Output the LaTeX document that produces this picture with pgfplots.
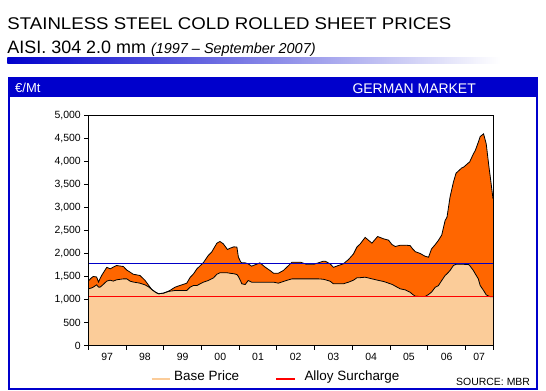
\documentclass[border=0pt]{standalone}
\usepackage{pgfplots}
\pgfplotsset{compat=1.18}
\usepackage{pgfplotstable}
\usepackage{fontspec}
\setmainfont{Liberation Sans}
\newfontfamily\widefont[FakeStretch=1.1]{Liberation Sans}
\definecolor{peach}{RGB}{251,204,153}
\definecolor{orng}{RGB}{255,102,0}
\definecolor{hblue}{RGB}{0,0,204}
\definecolor{lblue}{RGB}{0,0,200}

\pgfplotstableread{
year base top
1997.00 1232 1400
1997.08 1250 1470
1997.13 1268 1500
1997.22 1319 1490
1997.27 1270 1380
1997.31 1268 1450
1997.36 1300 1530
1997.49 1400 1700
1997.58 1420 1667
1997.66 1400 1703
1997.75 1428 1739
1997.93 1449 1717
1998.02 1449 1640
1998.11 1398 1594
1998.19 1380 1550
1998.37 1355 1522
1998.50 1319 1420
1998.59 1280 1320
1998.68 1220 1220
1998.77 1165 1165
1998.86 1125 1125
1998.99 1138 1138
1999.10 1170 1170
1999.17 1181 1200
1999.30 1196 1268
1999.48 1196 1319
1999.61 1196 1355
1999.70 1268 1480
1999.79 1304 1558
1999.88 1304 1667
2000.05 1377 1800
2000.18 1413 1957
2000.27 1449 2029
2000.32 1471 2101
2000.41 1550 2225
2000.49 1580 2261
2000.58 1580 2210
2000.69 1580 2087
2000.76 1570 2116
2000.86 1560 2145
2000.94 1543 2138
2000.98 1500 1920
2001.04 1400 1820
2001.07 1341 1797
2001.16 1326 1797
2001.24 1413 1775
2001.33 1377 1725
2001.42 1377 1754
2001.55 1377 1797
2001.69 1377 1703
2001.82 1377 1630
2001.91 1377 1572
2002.04 1355 1572
2002.17 1391 1630
2002.31 1428 1739
2002.40 1449 1812
2002.62 1449 1812
2002.79 1449 1765
2002.97 1449 1765
2003.10 1449 1797
2003.23 1440 1833
2003.28 1430 1833
2003.41 1398 1775
2003.50 1341 1700
2003.63 1341 1739
2003.76 1341 1775
2003.90 1377 1870
2004.03 1420 1990
2004.12 1471 2138
2004.21 1475 2210
2004.34 1485 2350
2004.52 1449 2225
2004.67 1420 2370
2004.83 1391 2319
2004.96 1355 2290
2005.05 1330 2196
2005.14 1290 2152
2005.27 1232 2180
2005.40 1210 2180
2005.53 1159 2174
2005.60 1110 2100
2005.67 1072 2040
2005.80 1065 2000
2005.93 1065 1940
2006.02 1109 1920
2006.10 1160 2100
2006.20 1268 2196
2006.28 1300 2283
2006.37 1413 2400
2006.46 1522 2717
2006.51 1558 2790
2006.59 1630 3225
2006.68 1739 3551
2006.75 1765 3746
2006.90 1765 3860
2006.95 1765 3877
2007.08 1760 3971
2007.11 1740 3990
2007.21 1630 4167
2007.26 1558 4239
2007.34 1449 4420
2007.39 1304 4543
2007.48 1196 4601
2007.55 1101 4384
2007.62 1072 3900
2007.66 1060 3650
2007.73 1060 3188
}\data

\begin{document}
\begin{tikzpicture}[x=1bp,y=1bp]
\path[use as bounding box, fill=white] (0,0) rectangle (546,390);
% titles
\node[anchor=base west, inner sep=0] at (7.3,360.7) {\fontsize{17}{20}\selectfont\widefont STAINLESS STEEL COLD ROLLED SHEET PRICES};
\node[anchor=base west, inner sep=0] at (7.3,336.7) {\fontsize{18}{20}\selectfont AISI. 304 2.0 mm {\fontsize{14.5}{16}\selectfont\itshape (1997 – September 2007)}};
\shade[left color=hblue, right color=white] (7.3,326.7) rectangle (500,332.7);
% frame
\fill[hblue] (8,292.7) rectangle (538,313);
\draw[hblue, line width=2.5] (9.25,1.25) rectangle (536.75,312);
\node[anchor=base west, inner sep=0, text=white] at (15,297.7) {\fontsize{13}{15}\selectfont €/Mt};
\node[anchor=base east, inner sep=0, text=white] at (476,296.7) {\fontsize{14}{15}\selectfont GERMAN MARKET};
% legend
\draw[peach, line width=2.5] (151.7,11) -- (170,11);
\node[anchor=base west, inner sep=0] at (174,9.3) {\fontsize{13.5}{15}\selectfont Base Price};
\draw[red, line width=2.5] (276,11) -- (295,11);
\node[anchor=base west, inner sep=0] at (304.3,9.3) {\fontsize{13.5}{15}\selectfont Alloy Surcharge};
\node[anchor=base west, inner sep=0] at (456,4.3) {\fontsize{10.5}{12}\selectfont SOURCE: MBR};

\begin{axis}[
  at={(88.3bp,44.5bp)}, anchor=south west,
  scale only axis, width=404.7bp, height=230bp,
  xmin=1997, xmax=2007.73, ymin=0, ymax=5000,
  axis on top,
  axis line style={black, line width=0.8bp},
  tick align=outside, tick pos=left,
  major tick length=4bp,
  tick style={black, line width=0.8bp},
  xtick={1997,1998,1999,2000,2001,2002,2003,2004,2005,2006,2007,2007.73},
  x tick label as interval,
  xticklabels={97,98,99,00,01,02,03,04,05,06,07,{}},
  ytick={0,500,...,5000},
  scaled y ticks=false,
  /pgf/number format/.cd, assume math mode=true, 1000 sep={,},
  /pgfplots/.cd,
  tick label style={font=\fontsize{10.5}{12}\selectfont},
]
\addplot[fill=orng, draw=none] table[x=year,y=top] {\data} \closedcycle;
\addplot[fill=peach, draw=none] table[x=year,y=base] {\data} \closedcycle;
\addplot[black, line width=0.8bp] table[x=year,y=top] {\data};
\addplot[black, line width=0.8bp] table[x=year,y=base] {\data};
\addplot[lblue, line width=0.9bp] coordinates {(1997,1776) (2007.73,1776)};
\addplot[red, line width=0.9bp] coordinates {(1997,1058) (2007.73,1058)};
\end{axis}
\end{tikzpicture}
\end{document}
